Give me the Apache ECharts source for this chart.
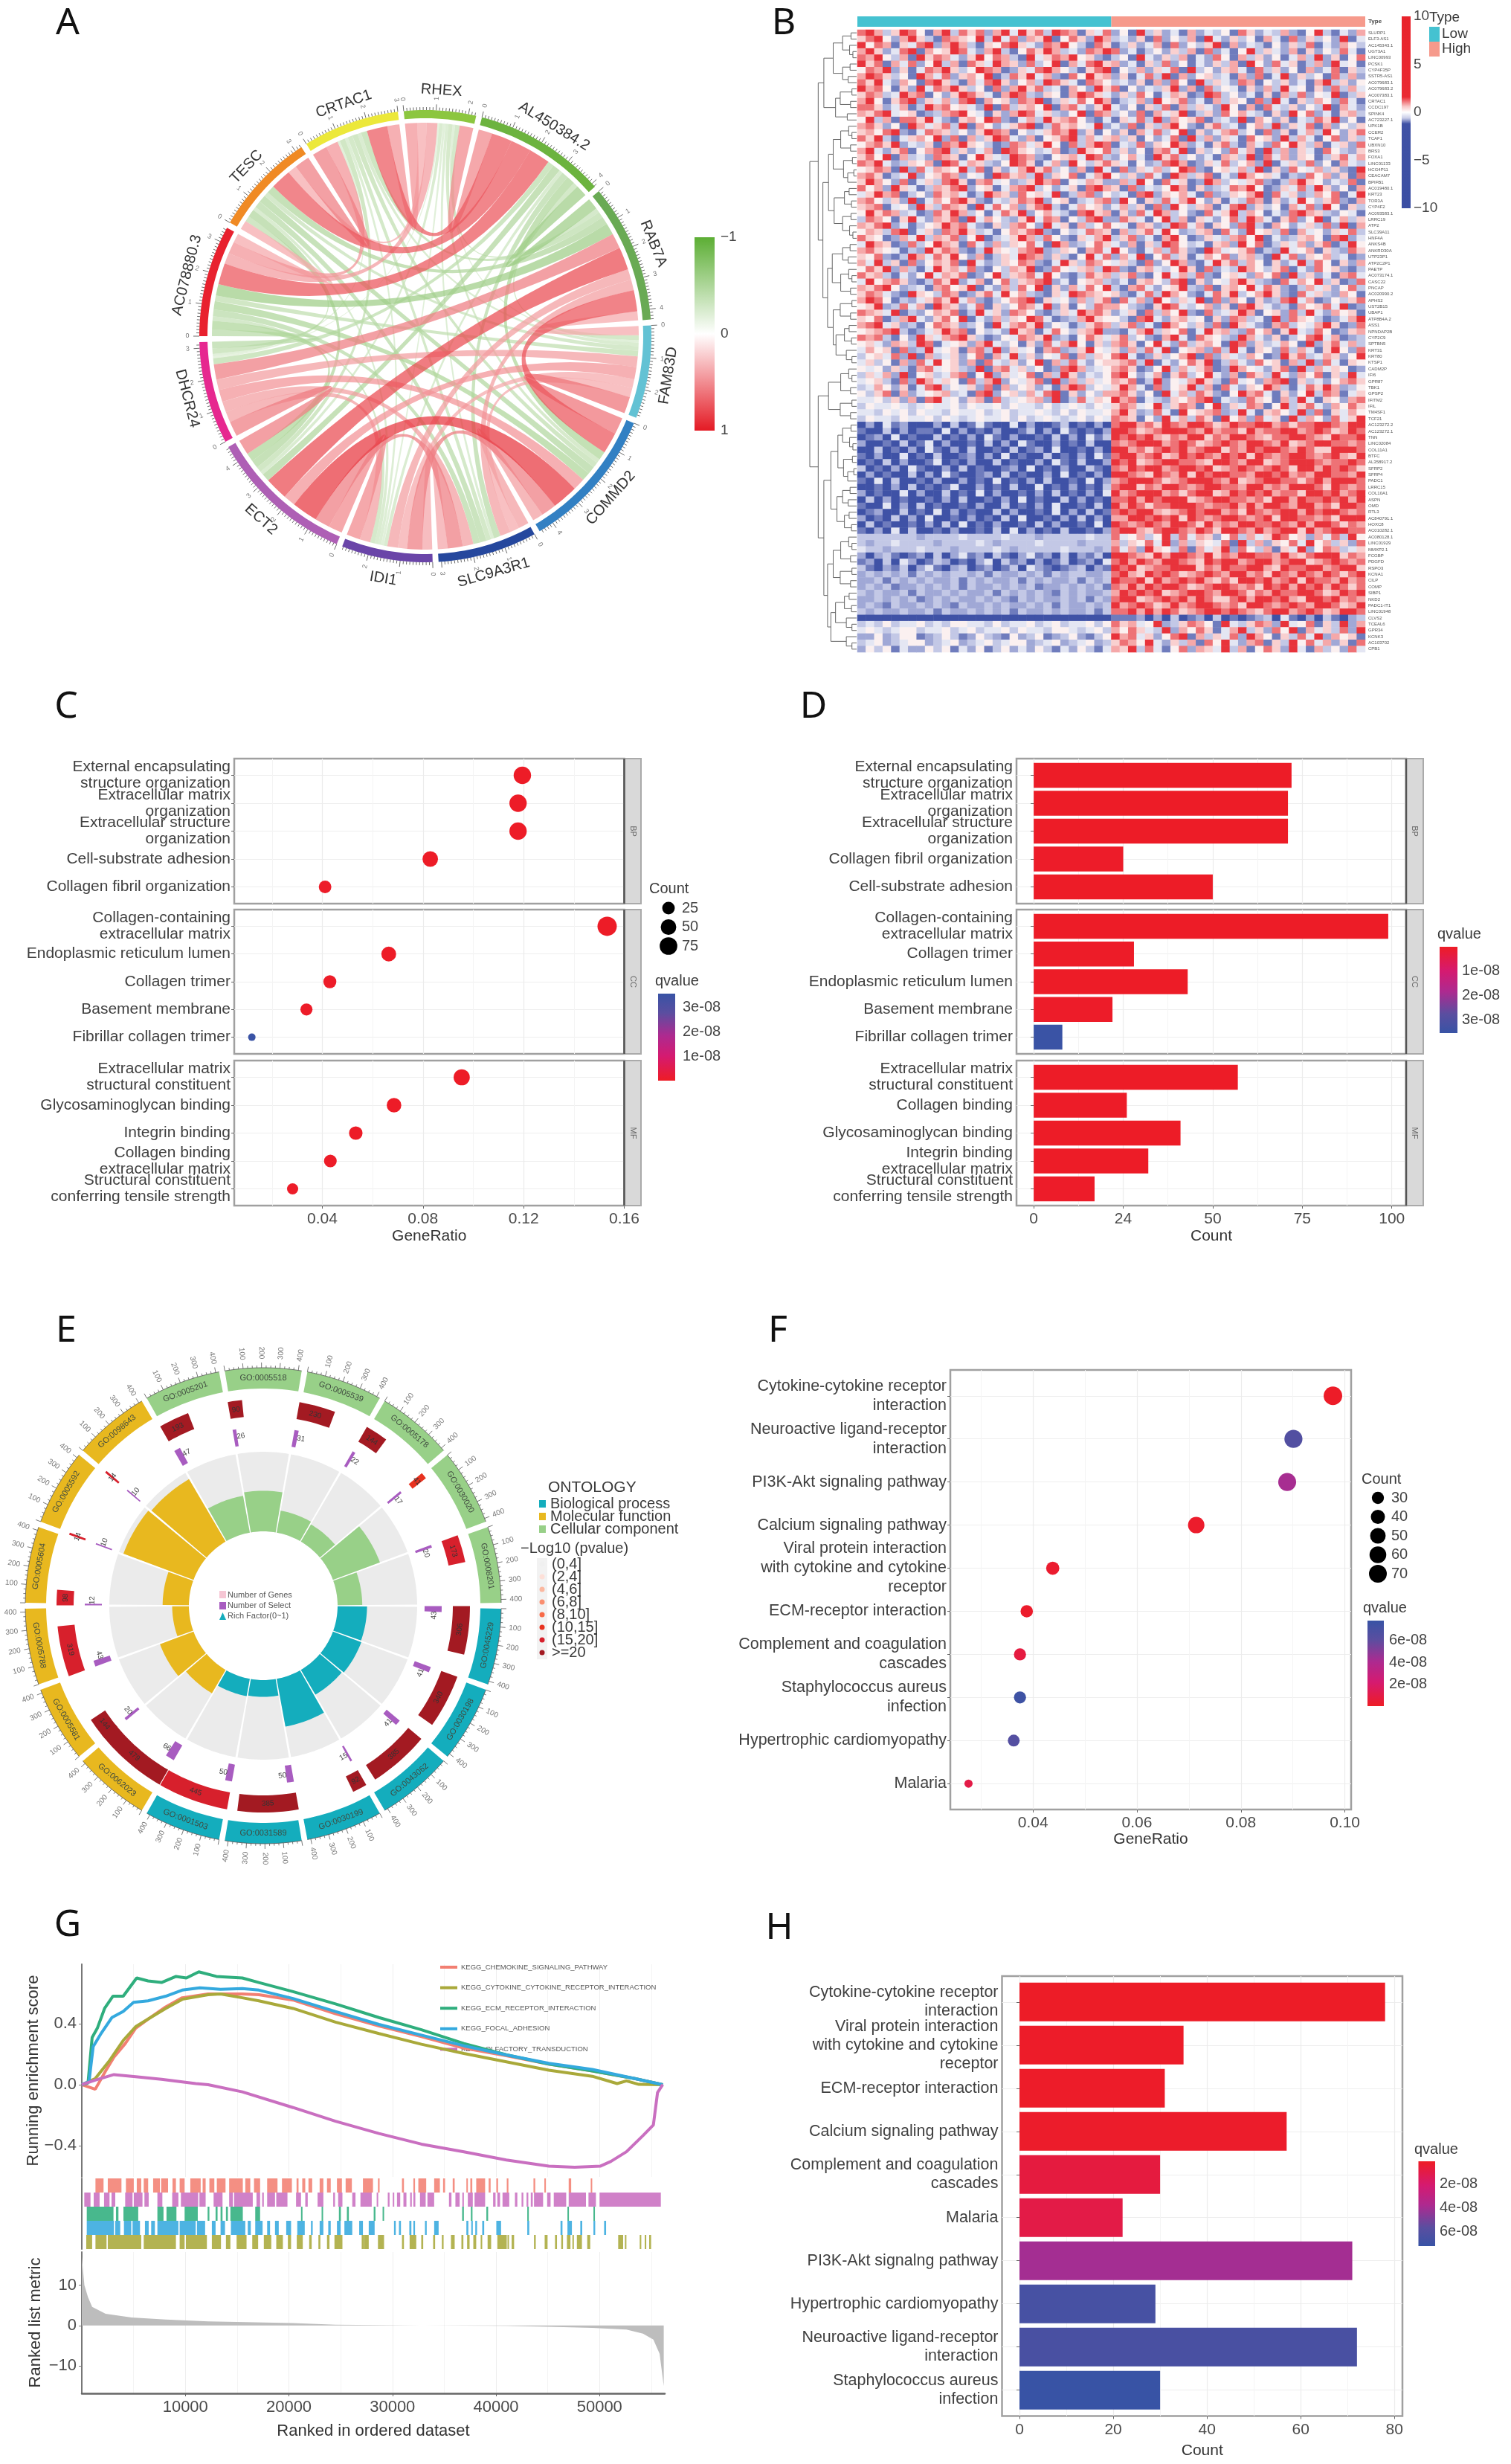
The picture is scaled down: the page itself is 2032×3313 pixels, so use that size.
<!DOCTYPE html>
<html><head><meta charset="utf-8"><style>html,body{margin:0;padding:0;background:#fff}#c{width:2032px;height:3313px}</style>
<script src="https://cdn.jsdelivr.net/npm/echarts@6/dist/echarts.min.js"></script></head><body><div id="c"></div>
<script>
const FF='"Liberation Sans",Arial,sans-serif';
// ---------- A
const genes=['AC078880.3','TESC','CRTAC1','RHEX','AL450384.2','RAB7A','FAM83D','COMMD2','SLC9A3R1','IDI1','ECT2','DHCR24'];
const geneColors=['#e8212e','#f08a24','#ece83a','#8cc63f','#6cb33f','#69aa54','#63c2d4','#3280c3','#25479d','#6a45a8','#ae5fb5','#e6288f'];
const corrRows=[
[.30,.40,.36,.70,-.38,-.18,-.28,-.22,-.15,-.28,-.22],
[.50,.30,.68,-.26,-.15,-.25,-.22,-.12,-.26,-.18],
[.40,.68,-.20,-.12,-.18,-.16,-.10,-.18,-.08],
[.45,-.15,-.08,-.14,-.10,-.08,-.12,-.06],
[-.38,-.16,-.28,-.22,-.12,-.26,-.20],
[.30,.70,.35,.35,.75,.50],
[.55,.30,.30,.40,.35],
[.35,.50,.85,.40],
[.32,.50,.35],
[.45,.35],
[.50]];
// ---------- B
const rowNames=['SLURP1','ELF3-AS1','AC145343.1','UGT3A1','LINC00993','PCSK1','CYP4F35P','SSTR5-AS1','AC079683.1','AC079683.2','AC007383.1','CRTAC1','CCDC197','SPINK4','AC723227.1','UPK1B','CCER2','TCAF1','UBXN10','BRS3','FOXA1','LINC01133','HCG4P11','CEACAM7','BPIFB1','AC019480.1','KRT23','TOR3A','CYP4F2','AC093583.1','LRRC19','ATP2','SLC39A11','HNF4A','ANKS4B','ANKRD30A','UTP23P1','ATP2C2P1','PAETP','AC073174.1','CASC22','PNCAP','AC020990.2','APHS2','UST2B15','UBAP1','ATP8B4A.2','ASS1','NPNDAP2B','CYP2C9',
'SPTBN5','KRT31','KRT80','KTSP1','CADM2P','IFI6','GPR87','TBK1','GPSP2','IFITM2','IFIL','TM4SF1','TCF21','AC123272.2','AC123272.1','TNN','LINC02084','COL11A1','BTFC','AL358917.2','SFRP2','SFRP4','PADC1','LRRC15','COL10A1','ASPN','OMD','RTL3','AC840791.1','HOXC8','AC010282.1','AC080128.1','LINC01929','MMXP2.1','FCGBP','PDGFD','RSPO3','KCNA1','CILP','COMP','SIBP1','NKD2','PADC1-IT1','LINC01948','CLVS2','TCEAL6','GPR34','KCNK3','AC103702','CPB1'];
const heatLevels=[-8,-4,-2,-1,-.4,.2,1,2,4,8];
const heatColors=['#3f52a6','#6f7cbd','#a0a8d6','#c3c8e6','#e4e6f3','#fbf0f0','#f9d0d0','#f5a8a9','#ee7276','#e8333b'];
const heatRows=[
'897369851793868279496839871648251936241724351862437215931427',
'689527963187659394827691586297342618253719426351741826352914',
'958716489279731658964287953186136247182536917243152638142753',
'796248917569842793158697342879824135263718241593642716253841',
'879537196874269587319468795621351942637142851736251473926158',
'968174825937186497628359174896724163825142637195284613729451',
'587926148796359871264897531689153726481935267418362517248163',
'798635197482675913869472185967261483917256341728149263518372',
'869427518963174896257398641875342617285193642871536241793625',
'978516294879635182796834175296815243692718354162739451628374',
'687349781526986417983265179864263851476129835241617382549136',
'795168926473891756287913648597134729568241736518294163752841',
'886247139785642918367591784269425163817364295171843625391742',
'768945612378954162798463259187352817469136285743162958241673',
'593718869421675982147396785214164839275681342917526143869251',
'786251974683917524689138675492428163795216834157392648172536',
'675892148763526987153468792615261748359162478351826147395268',
'869314675928173698427156893746736152481937264185629374158263',
'578692436187965312874695183798143826597241683174285963714628',
'794268157893624719865347129658362517849163528471937264185326',
'685917342876159643987215674983257419683524176391847265136847',
'879423657198476325986147295368641523897126483572914638251743',
'568719284765938162479683527194182647359821564739162854736219',
'786134925687254198673926581479536284197368142975641328572618',
'697528146389617845236978154762273951846129735468213796524381',
'857296413768925614789352461897618243597162348795126483962517',
'469781352867413976285649137825341892657418236579184623758149',
'785362914758962143687925613478295163847952614387162495368217',
'678145296387619485726893147562473618295367148926351748295163',
'596873412869735148692574318967162849735218469375142897632541',
'387516942768194753269487153892286415937164258397416825914736',
'768924135697842163785294617358541762398471652893175246382917',
'576389146287963415768921534876173684952367184295638174526483',
'865127493768259134697385216479368241795126437859142367518924',
'497612835976184273658419723586427163985341672958136472681395',
'786541329687213965478923651784952147386219745681329457163286',
'658213974869527136498726315948274915836147582673194826573412',
'749361825768194236587214963875463182597214968375162493851627',
'586927314967482153769128546739821674359618243975368142856213',
'867314259476812593678495213867368215947382156427581936241784',
'495786213869247158367892415673241675389162547963218475936128',
'768952341785691427385916274859317842569328167594862137462583',
'687421965387126849573216498765621483975214869357962184632751',
'798513246869472135789164527368184729536491827516238947125368',
'569238471976248163587492615387753216984357261896423175684912',
'876491325768139462875213649786246183759218346971562839427561',
'658137942685914273659841237965531894267451628734192865312479',
'789462315876235194786925413687368241975362819642178354796128',
'567893124697815342967148536792214793658149673285716943851267',
'878315296478963125487692315864683521794186532974261358947123',
'564276398145627943516284795163786159428367519826347519268473',
'475618239456178392645178236954627384915672839416528374169528',
'356482917346258174936254817365894126357918264375129683476259',
'463517284956271843625917384256678391425869137428561739284165',
'545263178456329178463512897345786125937468129754268193746512',
'364729156347815926458173962435895247168359427186394275816394',
'456318297465183792546819273645768139254796318452789163425786',
'347526148935462817356241798354697418256937184265973148697235',
'536817245673418925637489162537786251947386215978416259387146',
'445362718945267183456729138465978143265789143286517394165278',
'354454345445354453544353454354687459368715926487159368427586',
'443545354435445345344543535445796238419567823941675392816475',
'354435445354345445353454345354876152947386195728461937528469',
'020412000203014100402001301020899786987998679889978688998799',
'100302011040201020013020410102998678999879788697889978986798',
'012040100301020410200103020413989897687996879987688998769889',
'200103014020010302041002010300878999789867898799879678998878',
'003010204102030010301204001020997868989789968798998798669998',
'102004010300120204010030102041899789679898798969878998789769',
'010302001401020030100204103002989678998876998799678999878898',
'301020410020301001204010200310879899789989678987898699798986',
'020100302041001203010020401020998769879698998879989787998879',
'104030010200201040102030010402789998678999879678998868979998',
'001020301014002010300401020103899687998789988799787999869878',
'201004020030104020010203010204978999786899679898978869989789',
'030201001020300102040100302010889798999678998878699798898979',
'100402030100102003010204001030979868899987889797998799786998',
'012003010402010030200104020301898997678989978698789979899878',
'201030204001020103040010203020779989896987899878969988786999',
'030100102030401020010302001040987898799869787998898797998687',
'102040300102001030402010300102899768998798699879789969789988',
'333333323333433334333233333433845735938476258374698562748395',
'323343333233334323333433332333736584927365481937265849573628',
'433233343332333343233333433323847296538174692853716492587346',
'202310120302412031024120302130998769799879687998879768999687',
'120304201320102403120201301204897987998769899789978996789878',
'310213024102301201304210123021989678899968798899769889978996',
'232323132323323132232313233223897698986789879978698798798689',
'223132323223132322313232231323988969789897686998978969887978',
'232312232323132232323122323231879798998678998786989798979868',
'323223132232322313232321323223798989678998799868798899867989',
'223232312323223232132322323132899678989798668979989769989787',
'232132232321322323223231322323978986797899878699878987998679',
'323223223132232323132232322313889797986789989876899789867998',
'000000000000000000000000000000111202030120301012304102031023',
'343534453435544353445345344535867459236875194368729458163927',
'454345534453453445354435543453758643927586147936285917463829',
'225235512353125321523512352135978462589173648297516384927561',
'345234552345234534552345234523687594263718594278163958472618',
'253514225351425135242531425314769384158276493715862941735284',
'343425534342534435425334523443857249673158246971358264917358'];
const t2=[.2,0,0],t3=[.22,0,[.1,0,0]],t4a=[.3,[.14,0,0],[.18,0,0]],t4b=[.35,[.1,0,0],[.13,0,0]],t4c=[.26,[.16,0,0],[.11,0,0]];
const t5a=[.3,[.12,0,0],[.15,0,[.08,0,0]]],t5b=[.34,[.17,0,[.1,0,0]],[.13,0,0]],t5c=[.28,[.09,0,0],[.19,[.06,0,0],0]];
const dendroTree=[1,[.82,[.7,[.5,t5a,t4a],[.45,t4b,t2]],[.72,[.6,[.5,t5b,t5c],[.48,t4c,t5a]],[.62,[.52,t4a,t5b],[.5,t4b,[.44,t4c,t3]]]]],
 [.82,[.6,t5b,t4b],[.7,[.55,[.4,t5a,t5c],[.42,t4a,t4c]],[.62,[.5,t5b,t4b],[.55,[.45,t4c,t3],t3]]]]];
// ---------- C
const cBP=['External encapsulating\nstructure organization','Extracellular matrix\norganization','Extracellular structure\norganization','Cell-substrate adhesion','Collagen fibril organization'];
const cBPratio=[.1195,.1178,.1178,.0829,.0411], cBPcount=[72,71,71,50,25], cBPq=[.02,.02,.02,.02,.05];
const cCC=['Collagen-containing\nextracellular matrix','Endoplasmic reticulum lumen','Collagen trimer','Basement membrane','Fibrillar collagen trimer'];
const cCCratio=[.1532,.0664,.043,.0337,.012], cCCcount=[99,43,28,22,8], cCCq=[.02,.02,.04,.05,3.5];
const cMF=['Extracellular matrix\nstructural constituent','Glycosaminoglycan binding','Integrin binding','Collagen binding\nextracellular matrix','Structural constituent\nconferring tensile strength'];
const cMFratio=[.0954,.0685,.0533,.0432,.0282], cMFcount=[57,41,32,26,17], cMFq=[.02,.02,.03,.04,.05];
// ---------- D
const dBP=['External encapsulating\nstructure organization','Extracellular matrix\norganization','Extracellular structure\norganization','Collagen fibril organization','Cell-substrate adhesion'];
const dBPcount=[72,71,71,25,50], dBPq=[.02,.02,.02,.05,.02];
const dCC=['Collagen-containing\nextracellular matrix','Collagen trimer','Endoplasmic reticulum lumen','Basement membrane','Fibrillar collagen trimer'];
const dCCcount=[99,28,43,22,8], dCCq=[.02,.04,.02,.05,3.5];
const dMF=['Extracellular matrix\nstructural constituent','Collagen binding','Glycosaminoglycan binding','Integrin binding\nextracellular matrix','Structural constituent\nconferring tensile strength'];
const dMFcount=[57,26,41,32,17], dMFq=[.02,.04,.02,.03,.05];
// ---------- E
const goIds=['GO:0005518','GO:0005539','GO:0005178','GO:0030020','GO:0008201','GO:0045229','GO:0030198','GO:0043062','GO:0030199','GO:0031589','GO:0001503','GO:0062023','GO:0005581','GO:0005788','GO:0005604','GO:0005592','GO:0098643','GO:0005201'];
const goOntology=[2,2,2,2,2,0,0,0,0,0,0,1,1,1,1,1,1,2];
const goRich=[.51,.28,.25,.63,.31,.37,.38,.36,.61,.21,.22,.34,.45,.21,.33,.94,.91,.47];
const goGenes=[90,230,144,41,173,306,340,385,92,385,445,479,144,319,98,14,14,193];
const goSelect=[26,31,22,17,20,43,41,41,15,50,50,66,20,43,12,10,10,47];
const goLevel=[7,7,7,5,6,7,7,7,7,7,6,7,7,6,6,6,6,7];
const ontoColors=['#14adbd','#e8b81f','#98d088'];
const ontoNames=['Biological process','Molecular function','Cellular component'];
const pLabels=['(0,4]','(2,4]','(4,6]','(6,8]','(8,10]','(10,15]','(15,20]','>=20'];
const pColors=['#f0f0f0','#fde0d8','#fbb8a0','#fa8f70','#f86a48','#e8321f','#d7202c','#a31a22'];
// ---------- F
const fCats=['Cytokine-cytokine receptor\ninteraction','Neuroactive ligand-receptor\ninteraction','PI3K-Akt signaling pathway','Calcium signaling pathway','Viral protein interaction\nwith cytokine and cytokine\nreceptor','ECM-receptor interaction','Complement and coagulation\ncascades','Staphylococcus aureus\ninfection','Hypertrophic cardiomyopathy','Malaria'];
const fRatio=[.0977,.0901,.0889,.0714,.0438,.0388,.0375,.0375,.0363,.0276];
const fCount=[78,72,71,57,35,31,30,30,29,22];
const fQ=[.1,6.5,4.2,.2,.3,.2,.8,7.5,6.4,1];
// ---------- G
const curveNames=['KEGG_CHEMOKINE_SIGNALING_PATHWAY','KEGG_CYTOKINE_CYTOKINE_RECEPTOR_INTERACTION','KEGG_ECM_RECEPTOR_INTERACTION','KEGG_FOCAL_ADHESION','KEGG_OLFACTORY_TRANSDUCTION'];
const curveColors=['#f27f72','#a9a93a','#2fae7d','#34a9de','#c96fc0'];
const chemX=[0,1.3,2.3,3.1,4.2,5.2,6.4,8.1,9.7,12.2,15.5,17.1,20.4,24.5,28.7,32.8,36.9,41,45.1,49.3,53.4,56.1];
const chemY=[0,-.03,.09,.18,.27,.37,.43,.51,.57,.595,.595,.59,.555,.465,.385,.315,.24,.19,.135,.09,.04,0];
const cytoX=[0,1.3,2.7,4,5.2,6.4,8.1,9.7,12.2,13.4,15.5,17.1,20.4,24.5,28.7,32.8,36.9,41,45.1,49.3,51.7,52.6,53.8,56.1];
const cytoY=[0,.04,.16,.29,.38,.43,.5,.56,.59,.595,.57,.55,.5,.41,.335,.265,.205,.15,.095,.055,.007,.025,.002,0];
const ecmX=[0,.6,1,1.5,2.2,3,4,5.3,6.4,7.7,9.1,10.1,11.3,13,15.5,17.1,20.4,24.5,28.7,32.8,36.9,41,45.1,49.3,53.4,56.1];
const ecmY=[0,.01,.31,.37,.5,.58,.58,.7,.68,.67,.71,.7,.74,.71,.7,.67,.61,.53,.44,.36,.27,.196,.135,.09,.04,0];
const focalX=[0,.7,1.1,1.9,2.9,4,5,6.4,8.1,9.7,11.4,13.4,15.5,17.1,20.4,24.5,28.7,32.8,36.9,41,45.1,49.3,53.4,56.1];
const focalY=[0,.02,.25,.34,.44,.48,.54,.55,.58,.62,.635,.625,.63,.62,.565,.48,.395,.325,.255,.195,.14,.1,.04,0];
const olfX=[0,1.3,3.1,5.2,7.7,11,12.2,15.5,20.4,24.5,28.7,32.8,36.9,41,45.1,47.6,50.1,51.1,52.6,54.2,55.2,55.6,56.1];
const olfY=[0,.03,.066,.052,.035,.007,0,-.047,-.15,-.24,-.32,-.39,-.44,-.494,-.534,-.541,-.534,-.503,-.44,-.334,-.264,-.052,0];
const rugChem=[1.32,2.1,2.51,3.83,4.26,5.02,5.31,5.74,5.98,6.41,6.89,7.54,7.66,8.33,8.76,9.09,9.45,9.93,10.48,11.48,11.67,11.96,12.32,12.8,13.04,13.88,14.23,15.55,15.79,16.27,16.63,17.22,17.9,18.9,19.33,20.29,20.74,20.93,21.29,21.58,21.89,22.25,22.97,23.33,23.68,24.04,24.64,25.12,25.48,26.08,27.15,28.12,28.6,28.76,30.92,31.11,32.02,32.18,32.5,33.26,34.03,34.58,34.89,35.08,35.82,36.01,37.14,37.28,37.52,37.71,38.09,38.95,39.29,39.48,40.03,40.2,41.04,41.2,43.62,43.79,44.67,44.82,47.02,47.26,49.15,49.29];
const rugOlf=[.24,.84,1.15,1.72,2.15,2.68,2.87,3.23,4.19,4.9,5.02,5.86,6.05,6.46,7.3,7.78,8.73,9.33,9.57,11.24,11.36,11.96,12.73,13.59,14.23,14.59,14.71,16.51,16.87,17.22,17.42,17.58,17.9,18.66,18.78,19.86,20.69,21.17,21.58,21.82,22.77,23.33,24.28,24.45,24.76,25.17,26.12,26.43,26.91,28,28.48,28.62,29.55,29.72,30.03,30.15,30.44,30.75,31.06,31.35,31.71,31.87,32.02,32.21,32.66,33.21,33.38,34.03,35.46,35.7,36.08,36.49,36.75,36.9,37.28,37.76,37.93,38.95,39.72,39.96,40.13,40.39,40.63,41.28,41.83,42.06,42.47,42.64,42.95,43.12,43.36,43.55,43.67,44.55,44.94,45.27,45.58,46.78,47.02,48.69,48.93,49.65,50,55.92];
const rugEcm=[.48,3.06,3.3,3.54,4.02,5.45,7.3,7.89,8.18,9.14,9.93,11.2,12.15,12.32,12.92,13.11,13.4,13.59,13.92,14.11,14.35,15.55,16.75,17.22,21.17,21.29,23.16,23.3,24.83,25.02,25.6,25.79,28.19,28.36,29.05,29.19,36.73,36.9,37.57,37.73,39.07,39.24,43.02,43.17,46.9,47.04,49.41,49.53];
const rugFocal=[.48,3.11,3.23,3.71,4.07,4.78,4.9,5.62,6.1,6.46,6.7,7.06,7.3,9.33,9.45,11,11.12,11.91,12.56,12.92,13.4,13.83,14.4,15.79,16.03,16.32,16.75,17.46,17.9,18.18,18.66,19.02,19.74,20.21,20.81,21.53,22.13,22.3,22.97,23.33,23.8,24.04,24.64,25,25.36,26.12,26.79,27.15,27.71,28.28,30.15,30.32,30.63,30.82,31.63,31.83,32.02,32.18,33.14,33.31,34.03,34.46,37.14,37.33,37.61,37.76,38,38.17,38.67,38.86,40.03,40.49,43.02,43.21,46.23,46.42,46.9,47.33,48.14,48.33,49.41,49.58,50.44,50.63];
const rugCyto=[.43,1,1.32,2.39,2.51,5.74,5.98,9.09,9.45,9.93,10.05,12.08,12.56,13.44,13.92,14.35,14.95,15.91,16.46,17.03,17.58,18.3,18.78,19.42,19.9,20.21,20.76,21.34,21.96,22.2,22.85,23.04,23.68,23.92,24.4,25.17,27.03,27.27,27.28,27.71,28.6,29.19,30.92,31.11,31.66,32.3,32.78,32.97,33.93,34.12,34.77,34.94,35.65,36.01,36.66,36.85,37.21,37.45,37.81,38.09,38.52,38.67,39.19,39.53,40.13,41.04,41.11,41.25,41.51,41.75,43.67,43.84,44.7,44.98,45.7,45.89,46.3,46.47,46.85,47.19,47.38,47.52,47.81,48.3,48.81,49.1,51.8,52.28,52.45,52.59,53.88,54.03,54.36,54.51,54.79,54.98];
const metricX=[0,.25,.6,1,2.3,4.8,8.1,12.2,20.4,24.5,32.8,41,45.1,49.3,52.6,54.2,55.2,55.8,56.2];
const metricY=[17,10,7,4.6,2.9,2,1.5,1,.6,.2,0,-.1,-.3,-.6,-1,-2,-3.5,-7,-15];
// ---------- H
const hCats=['Cytokine-cytokine receptor\ninteraction','Viral protein interaction\nwith cytokine and cytokine\nreceptor','ECM-receptor interaction','Calcium signaling pathway','Complement and coagulation\ncascades','Malaria','PI3K-Akt signalng pathway','Hypertrophic cardiomyopathy','Neuroactive ligand-receptor\ninteraction','Staphylococcus aureus\ninfection'];
const hCount=[78,35,31,57,30,22,71,29,72,30];
const hQ=[.15,.2,.2,.25,.8,1,4,6.5,6.4,7.2];

// ---------- helpers
const grids=[],xAxes=[],yAxes=[],series=[],gfx=[];
const qStops=[[0,'#ee1c25'],[.28,'#d51a70'],[.52,'#ad2a90'],[.78,'#5a4ea0'],[1,'#3853a5']];
function hex(c){return [1,3,5].map(i=>parseInt(c.substr(i,2),16));}
function qc(t){t=Math.max(0,Math.min(1,t));for(let i=1;i<qStops.length;i++){if(t<=qStops[i][0]){const a=qStops[i-1],b=qStops[i],u=(t-a[0])/(b[0]-a[0]),A=hex(a[1]),B=hex(b[1]);return 'rgb('+A.map((v,k)=>Math.round(v+(B[k]-v)*u)).join(',')+')';}}return qStops[4][1];}
const G=o=>{grids.push(o);return grids.length-1;};
function pair(g,x,y){x.gridIndex=g;y.gridIndex=g;xAxes.push(x);yAxes.push(y);return [xAxes.length-1,yAxes.length-1];}
const hideX=(a,b)=>({type:'value',min:a,max:b,show:false});
const T=(x,y,text,fs,o={})=>gfx.push({type:'text',x,y,rotation:o.rot||0,z:20,silent:true,style:{text,font:(o.weight?o.weight+' ':'')+fs+'px '+(o.ff||FF),fill:o.fill||'#3a3a3a',align:o.align||'left',verticalAlign:'middle'}});
const R=(x,y,w,h,fill)=>gfx.push({type:'rect',z:1,silent:true,shape:{x,y,width:w,height:h},style:{fill}});
const XY=p=>p[0]+' '+p[1];

function frame(o){
 const gm=G({left:o.L,top:o.T,width:o.W,height:o.H});
 pair(gm,{type:'value',min:o.min,max:o.max,axisLine:{show:false},axisLabel:{show:false},axisTick:{show:false,customValues:o.minor},splitLine:{show:true,lineStyle:{color:'#f4f4f4',width:1}}},{type:'value',min:0,max:1,show:false});
 const g=G({left:o.L,top:o.T,width:o.W,height:o.H,show:true,borderColor:'#a0a0a0',borderWidth:2.5,backgroundColor:'transparent'});
 const map={};o.major.forEach((v,i)=>map[v]=o.labels?o.labels[i]:v);
 pair(g,{type:'value',min:o.min,max:o.max,axisLine:{show:false},
   axisTick:{show:!!o.showX,customValues:o.major,length:4,lineStyle:{color:'#666'}},
   axisLabel:{show:!!o.showX,customValues:o.major,formatter:v=>map[v],fontSize:o.tickFs||21,color:'#4a4a4a',fontFamily:FF,margin:8},
   splitLine:{show:true,lineStyle:{color:'#ececec',width:1.2}},
   name:o.showX?o.name:'',nameLocation:'middle',nameGap:o.nameGap||31,nameTextStyle:{fontSize:o.nameFs||21,color:'#333',fontFamily:FF}},
   {type:'value',min:0,max:1,show:false});
 const n=o.cats.length,band=o.H/(n+.2);
 const gi=G({left:o.L,top:o.T+.6*band,width:o.W,height:(n-1)*band});
 return pair(gi,hideX(o.min,o.max),{type:'category',boundaryGap:false,inverse:true,data:o.cats,
   axisLine:{show:false},axisTick:{show:true,length:4,lineStyle:{color:'#666'}},
   axisLabel:{interval:0,fontSize:o.fs||21,lineHeight:o.lh||22,color:'#404040',fontFamily:FF,margin:5,align:'right'},
   splitLine:{show:true,lineStyle:{color:'#eeeeee',width:1.2}}});
}
function strip(x,y,w,h,text){R(x,y,w,h,'#d9d9d9');
 gfx.push({type:'rect',z:3,silent:true,shape:{x,y,width:w,height:h},style:{fill:'none',stroke:'#aaa',lineWidth:2}});
 gfx.push({type:'line',z:4,silent:true,shape:{x1:x,y1:y,x2:x,y2:y+h},style:{stroke:'#555',lineWidth:2.5}});
 T(x+w/2,y+h/2,text,11,{rot:-Math.PI/2,align:'center',fill:'#666'});}
function dots(ax,cats,ratio,count,q,qmax,sz){series.push({type:'scatter',xAxisIndex:ax[0],yAxisIndex:ax[1],clip:false,z:5,
 data:cats.map((c,i)=>[ratio[i],i,count[i],q[i]]),encode:{x:0,y:1},symbolSize:v=>sz(v[2]),itemStyle:{opacity:1,color:p=>qc(p.value[3]/qmax)}});}
function bars(ax,cats,count,q,qmax,qmin,bw){series.push({type:'bar',xAxisIndex:ax[0],yAxisIndex:ax[1],clip:false,z:5,barWidth:bw,
 data:cats.map((c,i)=>({value:[count[i],i],itemStyle:{color:qc((q[i]-qmin)/(qmax-qmin))}})),encode:{x:0,y:1}});}
function cbar(o){
 const g=G({left:o.L,top:o.T,width:o.W,height:o.H});
 const m={};o.ticks.forEach((v,i)=>m[v]=o.labels[i]);
 const ax=pair(g,hideX(0,1),{type:'value',position:'right',min:o.min,max:o.max,inverse:!!o.inverse,axisLine:{show:false},splitLine:{show:false},
   axisTick:{show:o.whiteTicks!==false,inside:true,customValues:o.ticks,length:Math.min(5,o.W/4),lineStyle:{color:'#fff'}},
   axisLabel:{customValues:o.ticks,formatter:v=>m[v],fontSize:o.fs||20,color:'#444',fontFamily:FF,margin:o.margin||6}});
 const stops=o.stops;
 series.push({type:'custom',xAxisIndex:ax[0],yAxisIndex:ax[1],silent:true,z:3,clip:false,data:[[0,o.min]],encode:{x:0,y:1},
  renderItem:(p,api)=>{const a=api.coord([0,o.min]),b=api.coord([1,o.max]);
   return {type:'rect',shape:{x:Math.min(a[0],b[0]),y:Math.min(a[1],b[1]),width:Math.abs(a[0]-b[0]),height:Math.abs(a[1]-b[1])},
    style:{fill:new echarts.graphic.LinearGradient(0,0,0,1,stops.map(s=>({offset:s[0],color:s[1]})))}};}});
}
function sizeLegend(L,T0,H,vals,sz,fs){
 const g=G({left:L-10,top:T0,width:20,height:H});
 const ax=pair(g,hideX(0,1),{type:'category',boundaryGap:false,inverse:true,position:'right',data:vals.map(String),axisLine:{show:false},axisTick:{show:false},axisLabel:{interval:0,fontSize:fs||20,color:'#444',fontFamily:FF,margin:8}});
 series.push({type:'scatter',xAxisIndex:ax[0],yAxisIndex:ax[1],clip:false,data:vals.map((v,i)=>[.5,i,v]),encode:{x:0,y:1},symbolSize:v=>sz(v[2]),itemStyle:{color:'#000',opacity:1}});
}
const qTopBlue=qStops.map(s=>[1-s[0],s[1]]).reverse();

// ---------- letters
[['A',91,32],['B',1054,32],['C',89,951],['D',1094,951],['E',89,1790],['F',1046,1790],['G',91,2589],['H',1048,2593]].forEach(l=>T(l[1],l[2],l[0],50,{align:'center',fill:'#111',ff:'"Noto Sans",'+FF}));

// ---------- Panel A
const N=genes.length,corr=genes.map(()=>genes.map(()=>0));
corrRows.forEach((row,i)=>row.forEach((v,k)=>{corr[i][i+1+k]=v;corr[i+1+k][i]=v;}));
const geneTotals=corr.map(r=>r.reduce((s,v)=>s+Math.abs(v),0));
const allTot=geneTotals.reduce((a,b)=>a+b,0),PAD=1.5,perUnit=(360-N*PAD)/allTot;
const sectorStart=[];let acc=0;geneTotals.forEach((t,i)=>{sectorStart[i]=acc;acc+=t*perUnit+PAD;});
const seg=genes.map(()=>[]);
genes.forEach((g,i)=>{let a=sectorStart[i];
 const order=genes.map((_,j)=>j).filter(j=>j!==i).sort((p,q)=>((i-p+N)%N)-((i-q+N)%N));
 order.forEach(j=>{const w=Math.abs(corr[i][j])*perUnit;seg[i][j]=[a,a+w];a+=w;});});
const links=[];for(let i=0;i<N;i++)for(let j=i+1;j<N;j++)links.push([i,j,corr[i][j]]);
links.sort((a,b)=>Math.abs(a[2])-Math.abs(b[2]));
function corrColor(v){const t=Math.pow(Math.abs(v),v>0?.8:.55);const c=v>0?[228,26,36]:[90,170,50];return 'rgba('+c.map(k=>Math.round(255+(k-255)*t)).join(',')+',0.72)';}
const polarA=0,polarE=1;
function arcPts(api,r,a0,a1){const n=Math.max(2,Math.ceil(Math.abs(a1-a0)/1.5)),o=[];for(let i=0;i<=n;i++){const p=api.coord([r,a0+(a1-a0)*i/n]);o.push([p[0],p[1]]);}return o;}
function poly(api,r0,r1,a0,a1,fill){return {type:'polygon',shape:{points:arcPts(api,r1,a0,a1).concat(arcPts(api,r0,a1,a0))},style:{fill}};}
const upright=th=>{th=((th%360)+360)%360;const d=(th<=90||th>=270)?th:th-180;return -d*Math.PI/180;};
const radial=th=>{th=((th%360)+360)%360;const d=th<=180?th-90:th+90;return -d*Math.PI/180;};
const RL=287;
series.push({type:'custom',coordinateSystem:'polar',polarIndex:polarA,silent:true,z:2,data:links.map((l,i)=>[1,i]),
 renderItem:(p,api)=>{const l=links[api.value(1)],A=seg[l[0]][l[1]],B=seg[l[1]][l[0]];
  const c=XY(api.coord([0,0]));const a=arcPts(api,RL,A[0],A[1]),b=arcPts(api,RL,B[0],B[1]);
  let d='M'+XY(a[0]);a.slice(1).forEach(q=>d+='L'+XY(q));
  d+='Q'+c+' '+XY(b[0]);b.slice(1).forEach(q=>d+='L'+XY(q));
  d+='Q'+c+' '+XY(a[0])+'Z';
  return {type:'path',shape:{pathData:d},style:{fill:corrColor(l[2])}};}});
series.push({type:'custom',coordinateSystem:'polar',polarIndex:polarA,silent:true,z:3,data:genes.map((g,i)=>[1,i]),
 renderItem:(p,api)=>{const i=api.value(1),a0=sectorStart[i],tot=geneTotals[i],a1=a0+tot*perUnit,ch=[];
  ch.push(poly(api,293,304,a0,a1,geneColors[i]));
  let d='';for(let k=0;k<=Math.floor(tot*10);k++){const a=a0+k/10*perUnit,maj=k%10===0,P=api.coord([304,a]),Q=api.coord([maj?312:308,a]);d+='M'+XY(P)+'L'+XY(Q);
   if(maj){const lp=api.coord([320,a]);ch.push({type:'text',x:lp[0],y:lp[1],rotation:radial(a+270),style:{text:String(k/10),font:'9px '+FF,fill:'#777',align:'center',verticalAlign:'middle'}});}}
  ch.push({type:'path',shape:{pathData:d},style:{fill:'none',stroke:'#444',lineWidth:.8}});
  const mid=(a0+a1)/2,lp=api.coord([331,mid]);
  ch.push({type:'text',x:lp[0],y:lp[1],rotation:upright(mid+270),style:{text:genes[i],font:'20px '+FF,fill:'#333',align:'center',verticalAlign:'middle'}});
  return {type:'group',children:ch};}});
cbar({L:934,T:319,W:27,H:260,min:-1,max:1,inverse:true,ticks:[-1,0,1],labels:['−1','0','1'],margin:8,fs:19,stops:[[0,'#5cae34'],[.5,'#ffffff'],[1,'#e41a24']]});

// ---------- Panel B
const hData=[];heatRows.forEach((s,r)=>{for(let c=0;c<60&&c<s.length;c++)hData.push([c,r,heatLevels[+s[c]]]);});
const colIdx=[];for(let c=0;c<60;c++)colIdx.push(String(c));
{
 const g=G({left:1153,top:40,width:683,height:837});
 const ax=pair(g,{type:'category',data:colIdx,show:false},{type:'category',inverse:true,position:'right',data:rowNames,axisLine:{show:false},axisTick:{show:false},axisLabel:{interval:0,fontSize:6,color:'#555',fontFamily:FF,margin:4}});
 series.push({type:'heatmap',id:'heat',xAxisIndex:ax[0],yAxisIndex:ax[1],data:hData,progressive:0,silent:true,z:2});
 const gd=G({left:1089,top:40,width:63,height:837});
 const ad=pair(gd,{type:'value',min:0,max:1,inverse:true,show:false},{type:'category',inverse:true,data:rowNames,show:false});
 series.push({type:'custom',xAxisIndex:ad[0],yAxisIndex:ad[1],silent:true,clip:false,data:[[0,0]],encode:{x:0,y:1},
  renderItem:(p,api)=>{let d='',leaf=0;const y0=api.coord([0,0])[1],rh=api.size([0,1])[1];const P=(h,r)=>api.coord([h,0])[0]+' '+(y0+r*rh);
   const walk=n=>{if(n===0){return [0,leaf++];}const A=walk(n[1]),B=walk(n[2]);d+='M'+P(A[0],A[1])+'L'+P(n[0],A[1])+'L'+P(n[0],B[1])+'L'+P(B[0],B[1]);return [n[0],(A[1]+B[1])/2];};
   walk(dendroTree);return {type:'path',shape:{pathData:d},style:{fill:'none',stroke:'#666',lineWidth:1}};}});
 const ga=G({left:1153,top:22,width:683,height:14});
 const aa=pair(ga,hideX(0,60),{type:'category',position:'right',data:['Type'],axisLine:{show:false},axisTick:{show:false},axisLabel:{fontSize:8,fontWeight:'bold',color:'#444',fontFamily:FF,margin:4}});
 series.push({type:'bar',stack:'t',xAxisIndex:aa[0],yAxisIndex:aa[1],barWidth:'100%',data:[30],itemStyle:{color:'#45c2d1'},silent:true});
 series.push({type:'bar',stack:'t',xAxisIndex:aa[0],yAxisIndex:aa[1],barWidth:'100%',data:[30],itemStyle:{color:'#f69a8c'},silent:true});
}
cbar({L:1885,T:22,W:12,H:258,min:-10,max:10,ticks:[-10,-5,0,5,10],labels:['−10','−5','0','5','10'],margin:4,fs:19,whiteTicks:false,
 stops:[[0,'#e8222b'],[.42,'#ea2a32'],[.47,'#f8c9c9'],[.5,'#ffffff'],[.53,'#c9cde8'],[.56,'#3f52a5'],[1,'#3b4ea3']]});
T(1922,24,'Type',19);R(1922,36,14,20,'#45c2d1');R(1922,56,14,20,'#f69a8c');T(1939,46,'Low',19);T(1939,66,'High',19);

// ---------- Panel C
const szC=c=>10+16*Math.sqrt((c-8)/91);
const CL=315,CW=524.5;
[[1020,195,cBP,cBPratio,cBPcount,cBPq,'BP'],[1223,194,cCC,cCCratio,cCCcount,cCCq,'CC'],[1426,195,cMF,cMFratio,cMFcount,cMFq,'MF']].forEach((f,i)=>{
 const ax=frame({L:CL,T:f[0],W:CW,H:f[1],min:.005,max:.16,major:[.04,.08,.12,.16],minor:[.02,.06,.1,.14],labels:['0.04','0.08','0.12','0.16'],showX:i===2,name:'GeneRatio',cats:f[2]});
 dots(ax,f[2],f[3],f[4],f[5],3.55,szC);strip(CL+CW,f[0],22.5,f[1],f[6]);});
T(873,1195,'Count',20);sizeLegend(899,1221,51,[25,50,75],szC);
T(881,1319,'qvalue',20);
cbar({L:885,T:1336,W:23,H:117,min:0,max:3.55,ticks:[1,2,3],labels:['1e-08','2e-08','3e-08'],margin:10,stops:qTopBlue});

// ---------- Panel D
const DL=1367,DW=524;
[[1020,195,dBP,dBPcount,dBPq,'BP'],[1223,194,dCC,dCCcount,dCCq,'CC'],[1426,195,dMF,dMFcount,dMFq,'MF']].forEach((f,i)=>{
 const ax=frame({L:DL,T:f[0],W:DW,H:f[1],min:-4.8,max:104,major:[0,25,50,75,100],minor:[12.5,37.5,62.5,87.5],labels:['0','24','50','75','100'],showX:i===2,name:'Count',cats:f[2]});
 bars(ax,f[2],f[3],f[4],3.55,0,33.5);strip(DL+DW,f[0],23,f[1],f[5]);});
T(1933,1256,'qvalue',20);
cbar({L:1936,T:1273,W:24,H:116,min:0,max:3.55,inverse:true,ticks:[1,2,3],labels:['1e-08','2e-08','3e-08'],margin:6,stops:qStops});

// ---------- Panel E
const eR=[100,207];
series.push({type:'custom',coordinateSystem:'polar',polarIndex:polarE,silent:true,z:3,data:goIds.map((g,i)=>[1,i]),
 renderItem:(p,api)=>{const i=api.value(1),a0=i*20-10,a1=a0+20,ch=[],col=ontoColors[goOntology[i]];
  ch.push(poly(api,eR[0],eR[1],a0+.4,a1-.4,'#ebebeb'));
  ch.push(poly(api,eR[0],eR[0]+(eR[1]-eR[0])*goRich[i],a0+.4,a1-.4,col));
  ch.push(poly(api,292,320,a0+.7,a1-.7,col));
  const ga=goGenes[i]/22.5,sa=goSelect[i]/22.5;
  ch.push(poly(api,255,278,a0+.1,a0+.1+ga,pColors[goLevel[i]]));
  ch.push(poly(api,217,240,a0+.1,a0+.1+sa,'#a85cc0'));
  let lp=api.coord([266,a0+.1+ga/2]);
  ch.push({type:'text',x:lp[0],y:lp[1],rotation:upright(a0+ga/2),style:{text:String(goGenes[i]),font:'10px '+FF,fill:'#333',align:'center',verticalAlign:'middle'}});
  lp=api.coord([230,a0+.1+sa+1.2]);
  ch.push({type:'text',x:lp[0],y:lp[1],rotation:upright(a0+sa),style:{text:String(goSelect[i]),font:'10px '+FF,fill:'#444',align:'center',verticalAlign:'middle'}});
  lp=api.coord([306,(a0+a1)/2]);
  ch.push({type:'text',x:lp[0],y:lp[1],rotation:upright((a0+a1)/2),style:{text:goIds[i],font:'11px '+FF,fill:'#3f4a3f',align:'center',verticalAlign:'middle'}});
  let d='';arcPts(api,320,a0+.7,a1-.7).forEach((q,k)=>d+=(k?'L':'M')+XY(q));
  for(let v=0;v<=400;v+=25){const a=a0+.7+v/22.5,P=api.coord([320,a]),Q=api.coord([v%100?323:327,a]);d+='M'+XY(P)+'L'+XY(Q);
   if(v&&v%100===0){const t=api.coord([340,a]);ch.push({type:'text',x:t[0],y:t[1],rotation:radial(a),style:{text:String(v),font:'10px '+FF,fill:'#777',align:'center',verticalAlign:'middle'}});}}
  ch.push({type:'path',shape:{pathData:d},style:{fill:'none',stroke:'#555',lineWidth:.8}});
  return {type:'group',children:ch};}});
R(295,2139,9,10,'#f6c6d4');R(295,2154,9,10,'#a85cc0');
gfx.push({type:'polygon',z:5,silent:true,shape:{points:[[295,2178],[304,2178],[299.5,2168]]},style:{fill:'#14adbd'}});
T(306,2145,'Number of Genes',11,{fill:'#555'});T(306,2159,'Number of Select',11,{fill:'#555'});T(306,2173,'Rich Factor(0~1)',11,{fill:'#555'});
T(737,2000,'ONTOLOGY',21);
ontoNames.forEach((n,i)=>{R(725,2017+i*17,9,10,ontoColors[i]);T(740,2022+i*17,n,20);});
T(700,2082,'−Log10 (pvalue)',20);
pLabels.forEach((n,i)=>{R(722,2095+i*17,14,17,'#f2f2f2');gfx.push({type:'circle',z:5,silent:true,shape:{cx:729,cy:2103+i*17,r:3.5},style:{fill:pColors[i]}});T(742,2103+i*17,n,20);});

// ---------- Panel F
const szF=c=>11+14*Math.sqrt((c-22)/56);
{const ax=frame({L:1278,T:1842,W:539,H:591,min:.0241,max:.1012,major:[.04,.06,.08,.1],minor:[.03,.05,.07,.09],labels:['0.04','0.06','0.08','0.10'],showX:true,name:'GeneRatio',nameGap:30,cats:fCats,fs:21.5,lh:26});
 dots(ax,fCats,fRatio,fCount,fQ,7.8,szF);}
T(1831,1989,'Count',20);sizeLegend(1853,2014,102,[30,40,50,60,70],szF);
T(1833,2162,'qvalue',20);
cbar({L:1839,T:2179,W:22,H:115,min:0,max:7.8,ticks:[2,4,6],labels:['2e-08','4e-08','6e-08'],margin:7,stops:qTopBlue});

// ---------- Panel G
const X0=110,XW=784,XMAX=56300;
const major=[10000,20000,30000,40000,50000],minorG=[5000,15000,25000,35000,45000,55000];
function gridG(top,h){const g=G({left:X0,top,width:XW,height:h});
 pair(g,{type:'value',min:0,max:XMAX,axisLine:{show:false},axisLabel:{show:false},axisTick:{show:false,customValues:minorG},splitLine:{show:true,lineStyle:{color:'#f4f4f4'}}},{type:'value',min:0,max:1,show:false});}
gridG(2641,286);gridG(3028,190);
{const g=G({left:X0,top:2641,width:XW,height:286});
 const ax=pair(g,{type:'value',min:0,max:XMAX,axisLine:{show:false},axisLabel:{show:false},axisTick:{show:false,customValues:major},splitLine:{show:true,lineStyle:{color:'#eeeeee'}}},
  {type:'value',min:-.605,max:.79,name:'Running enrichment score',nameLocation:'middle',nameGap:51,nameTextStyle:{fontSize:22,color:'#333',fontFamily:FF},axisLine:{show:true,onZero:false,lineStyle:{color:'#777',width:2}},splitLine:{show:false},
   axisTick:{show:true,customValues:[-.4,0,.4],length:4,lineStyle:{color:'#777'}},axisLabel:{customValues:[-.4,0,.4],formatter:v=>v===0?'0.0':v<0?'−0.4':'0.4',fontSize:22,color:'#4a4a4a',fontFamily:FF,margin:7}});
 [[chemX,chemY],[cytoX,cytoY],[ecmX,ecmY],[focalX,focalY],[olfX,olfY]].forEach((c,i)=>series.push({type:'line',name:curveNames[i],xAxisIndex:ax[0],yAxisIndex:ax[1],showSymbol:false,clip:false,z:4,lineStyle:{width:4,color:curveColors[i]},itemStyle:{color:curveColors[i]},data:c[0].map((x,k)=>[x*1000,c[1][k]])}));
}
{const g=G({left:X0,top:2929,width:XW,height:95});
 const rows=['chem','olf','ecm','focal','cyto'];
 const ax=pair(g,{type:'value',min:0,max:XMAX,show:false},{type:'category',inverse:true,data:rows,axisLabel:{show:false},axisTick:{show:false},axisLine:{show:true,lineStyle:{color:'#777',width:2}}});
 [[rugChem,0],[rugOlf,4],[rugEcm,2],[rugFocal,3],[rugCyto,1]].forEach((r,row)=>{const arr=[];for(let i=0;i+1<r[0].length;i+=2)arr.push([r[0][i]*1000,r[0][i+1]*1000,row]);
  const col=curveColors[r[1]];
  series.push({type:'custom',xAxisIndex:ax[0],yAxisIndex:ax[1],silent:true,clip:false,data:arr,encode:{x:[0,1],y:2},renderItem:(p,api)=>{const a=api.coord([api.value(0),api.value(2)]),b=api.coord([api.value(1),api.value(2)]),h=api.size([0,1])[1];return {type:'rect',shape:{x:a[0],y:a[1]-h/2,width:Math.max(b[0]-a[0],2),height:h},style:{fill:col,opacity:.88}};}});});
}
{const g=G({left:X0,top:3028,width:XW,height:190});
 const ax=pair(g,{type:'value',min:0,max:XMAX,axisLine:{show:true,onZero:false,lineStyle:{color:'#666',width:2.5}},splitLine:{show:true,lineStyle:{color:'#eeeeee'}},
   axisTick:{show:true,customValues:major,length:4,lineStyle:{color:'#666'}},axisLabel:{customValues:major,formatter:v=>String(v),fontSize:22,color:'#4a4a4a',fontFamily:FF,margin:8},
   name:'Ranked in ordered dataset',nameLocation:'middle',nameGap:40,nameTextStyle:{fontSize:22,color:'#333',fontFamily:FF}},
  {type:'value',min:-16.8,max:18.2,name:'Ranked list metric',nameLocation:'middle',nameGap:51,nameTextStyle:{fontSize:22,color:'#333',fontFamily:FF},axisLine:{show:true,onZero:false,lineStyle:{color:'#777',width:2}},splitLine:{show:false},
   axisTick:{show:true,customValues:[-10,0,10],length:4,lineStyle:{color:'#777'}},axisLabel:{customValues:[-10,0,10],formatter:v=>v<0?'−10':String(v),fontSize:22,color:'#4a4a4a',fontFamily:FF,margin:7}});
 series.push({type:'line',xAxisIndex:ax[0],yAxisIndex:ax[1],showSymbol:false,clip:false,silent:true,z:3,lineStyle:{width:0},areaStyle:{color:'#bdbdbd',opacity:1},data:metricX.map((x,k)=>[x*1000,metricY[k]])});
}

// ---------- Panel H
{const ax=frame({L:1347.5,T:2657,W:538.5,H:591.5,min:-3.73,max:81.7,major:[0,20,40,60,80],minor:[10,30,50,70],labels:['0','20','40','60','80'],showX:true,name:'Count',nameGap:36,cats:hCats,fs:21.5,lh:25});
 bars(ax,hCats,hCount,hQ,7.2,.1,52);}
T(1902,2890,'qvalue',20);
cbar({L:1907.5,T:2906,W:22.5,H:114,min:.1,max:7.2,inverse:true,ticks:[2,4,6],labels:['2e-08','4e-08','6e-08'],margin:6,stops:qStops});

const heatIdx=series.findIndex(s=>s.id==='heat');
const chart=echarts.init(document.getElementById('c'),null,{width:2032,height:3313});
chart.setOption({animation:false,backgroundColor:'#fff',textStyle:{fontFamily:FF},
 grid:grids,xAxis:xAxes,yAxis:yAxes,series,
 polar:[{center:[572,452],radius:345},{center:[354,2159],radius:350}],
 radiusAxis:[{polarIndex:0,min:0,max:345,show:false},{polarIndex:1,min:0,max:350,show:false}],
 angleAxis:[{polarIndex:0,min:0,max:360,startAngle:180,show:false},{polarIndex:1,min:0,max:360,startAngle:90,show:false}],
 visualMap:[{type:'piecewise',show:false,seriesIndex:heatIdx,dimension:2,pieces:heatLevels.map((v,i)=>({value:v,color:heatColors[i]}))}],
 legend:{show:true,left:592,top:2640,orient:'vertical',itemWidth:23,itemHeight:4,itemGap:17.6,icon:'rect',selectedMode:false,data:curveNames,textStyle:{fontSize:9.5,color:'#555',fontFamily:FF},padding:0},
 graphic:{elements:gfx}});
</script></body></html>
